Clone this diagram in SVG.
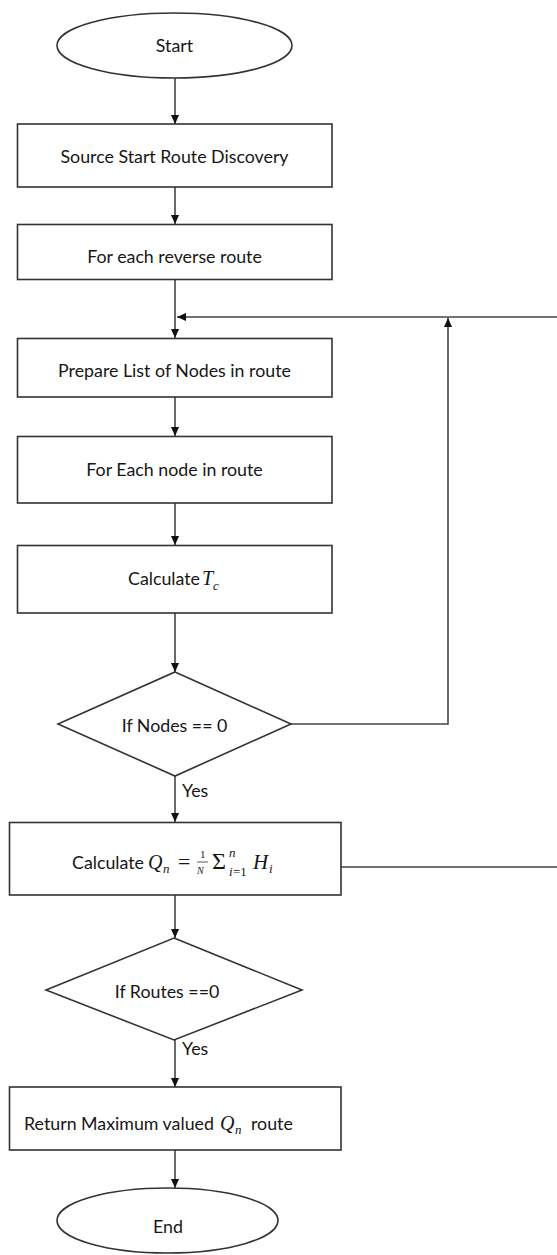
<svg xmlns="http://www.w3.org/2000/svg" width="557" height="1255" viewBox="0 0 557 1255">
  <style>
    .shape { fill: #ffffff; stroke: #333333; stroke-width: 1.6; }
    .wire { fill: none; stroke: #444444; stroke-width: 1.6; }
    .label { font-family: Lato, "Liberation Sans", sans-serif; font-size: 17.8px; fill: #161616; }
    .math { font-family: "Liberation Serif", "DejaVu Serif", serif; font-style: italic; fill: #161616; }
    .mathup { font-family: "Liberation Serif", "DejaVu Serif", serif; fill: #161616; }
  </style>
  <defs>
    <marker id="arrowBig" viewBox="0 0 10 10" refX="10" refY="5" markerWidth="9" markerHeight="9" orient="auto" markerUnits="userSpaceOnUse">
      <path d="M0,0.5 L10,5 L0,9.5 Z" fill="#111111"/>
    </marker>
  </defs>

  <rect width="557" height="1255" fill="#ffffff"/>

  <!-- connectors -->
  <g id="connectors">
    <path class="wire" d="M175,78 V124" marker-end="url(#arrowBig)"/>
    <path class="wire" d="M175,187 V224" marker-end="url(#arrowBig)"/>
    <path class="wire" d="M175,279 V338" marker-end="url(#arrowBig)"/>
    <path class="wire" d="M175,397 V436" marker-end="url(#arrowBig)"/>
    <path class="wire" d="M175,503 V545" marker-end="url(#arrowBig)"/>
    <path class="wire" d="M175,613 V672" marker-end="url(#arrowBig)"/>
    <path class="wire" d="M175,776 V822" marker-end="url(#arrowBig)"/>
    <path class="wire" d="M175,895 V938" marker-end="url(#arrowBig)"/>
    <path class="wire" d="M175,1040 V1087" marker-end="url(#arrowBig)"/>
    <path class="wire" d="M175,1150 V1188" marker-end="url(#arrowBig)"/>
    <!-- loop back from "If Nodes == 0" -->
    <path class="wire" d="M291,724 H448 V318" marker-end="url(#arrowBig)"/>
    <!-- return line into the main column -->
    <path class="wire" d="M570,317 H177" marker-end="url(#arrowBig)"/>
    <!-- loop back from the Q_n step, running along the right edge -->
    <path class="wire" d="M341,867 H561 V319" marker-end="url(#arrowBig)"/>
    <text class="label" x="182" y="797">Yes</text>
    <text class="label" x="182" y="1055">Yes</text>
  </g>

  <g id="start">
    <ellipse class="shape" cx="174.5" cy="45.5" rx="117.5" ry="32.5"/>
    <text class="label" x="174.5" y="52" text-anchor="middle">Start</text>
  </g>

  <g id="route-discovery">
    <rect class="shape" x="17.5" y="124" width="314.5" height="63"/>
    <text class="label" x="174.5" y="162.5" text-anchor="middle">Source Start Route Discovery</text>
  </g>

  <g id="each-reverse-route">
    <rect class="shape" x="17.5" y="224.5" width="314.5" height="55"/>
    <text class="label" x="174.5" y="263" text-anchor="middle">For each reverse route</text>
  </g>

  <g id="prepare-list">
    <rect class="shape" x="17.5" y="338.5" width="314.5" height="58.5"/>
    <text class="label" x="174.5" y="377" text-anchor="middle">Prepare List of Nodes in route</text>
  </g>

  <g id="each-node">
    <rect class="shape" x="17.5" y="436.5" width="314.5" height="66.5"/>
    <text class="label" x="174.5" y="475.5" text-anchor="middle">For Each node in route</text>
  </g>

  <g id="calc-tc">
    <rect class="shape" x="17.5" y="545.5" width="314.5" height="67.5"/>
    <text class="label" x="128" y="585">Calculate</text>
    <text class="math" x="202" y="585" font-size="20">T</text>
    <text class="math" x="213" y="590" font-size="13">c</text>
  </g>

  <g id="nodes-check">
    <polygon class="shape" points="175,672 291,724 175,776 58,724"/>
    <text class="label" x="174.5" y="732" text-anchor="middle">If Nodes == 0</text>
  </g>

  <g id="calc-qn">
    <rect class="shape" x="9.5" y="822.5" width="331.5" height="72.5"/>
    <text class="label" x="72" y="869">Calculate</text>
    <text class="math" x="148" y="869" font-size="20">Q</text>
    <text class="math" x="163" y="873" font-size="13">n</text>
    <text class="mathup" x="178" y="869" font-size="22">=</text>
    <text class="mathup" x="200" y="858" font-size="11">1</text>
    <line x1="197" y1="862" x2="208" y2="862" stroke="#333333" stroke-width="0.8"/>
    <text class="math" x="197" y="874" font-size="10">N</text>
    <text class="mathup" x="212" y="869" font-size="24">Σ</text>
    <text class="math" x="229" y="857" font-size="13">n</text>
    <text class="math" x="229" y="876" font-size="13">i</text>
    <text class="mathup" x="233" y="876" font-size="13">=1</text>
    <text class="math" x="253" y="869" font-size="21">H</text>
    <text class="math" x="269" y="873" font-size="13">i</text>
  </g>

  <g id="routes-check">
    <polygon class="shape" points="174,938 302,990 174,1040 46,990"/>
    <text class="label" x="167" y="998" text-anchor="middle">If Routes ==0</text>
  </g>

  <g id="return-max">
    <rect class="shape" x="9.5" y="1087" width="331.5" height="63"/>
    <text class="label" x="24" y="1130">Return Maximum valued</text>
    <text class="math" x="220" y="1130" font-size="20">Q</text>
    <text class="math" x="235" y="1134" font-size="13">n</text>
    <text class="label" x="251" y="1130">route</text>
  </g>

  <g id="end">
    <ellipse class="shape" cx="167.5" cy="1220.5" rx="110.5" ry="32.5"/>
    <text class="label" x="168" y="1233" text-anchor="middle">End</text>
  </g>
</svg>
